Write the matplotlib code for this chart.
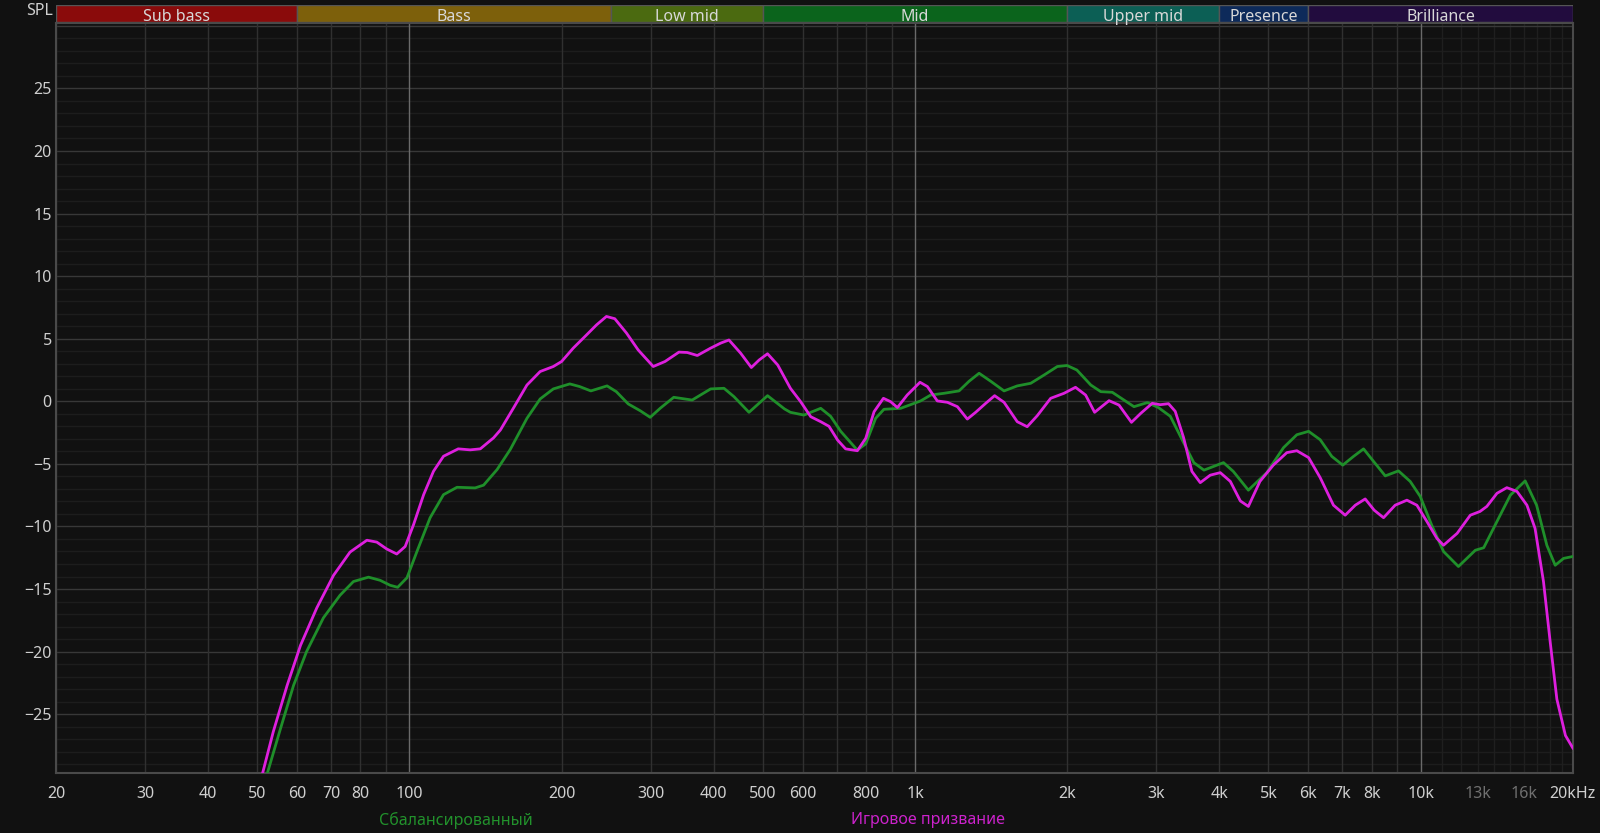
import matplotlib
matplotlib.use('Agg')
import matplotlib.pyplot as plt

plt.rcParams['font.family'] = ['Noto Sans', 'DejaVu Sans']
plt.rcParams['font.size'] = 11.5

# частотные полосы
band_names = ['Sub bass', 'Bass', 'Low mid', 'Mid', 'Upper mid', 'Presence', 'Brilliance']
band_edges = [20, 60, 250, 500, 2000, 4000, 6000, 20000]
band_colors = ['#8a0b0b', '#7d600b', '#4b6a10', '#0b641c', '#0c5f55', '#0d2a5a', '#220c3e']

# Сбалансированный (зелёная)
green_f = [52.2, 55.6, 59.0, 62.6, 67.6, 72.9, 77.5, 83.0, 87.5, 91.6, 94.8, 98.9, 103.5, 109.9,
           116.8, 124.2, 134.9, 140.2, 149.1, 158.3, 170.8, 181.4, 192.6, 207.6, 217, 228.5, 246,
           256.6, 270.9, 286, 299.4, 313.3, 333.3, 362.4, 394.3, 419, 438.5, 469.5, 510.9, 551.9,
           567, 603, 651, 681, 713, 769, 799, 836, 868, 937, 1026, 1074, 1141, 1222, 1279, 1339,
           1412, 1500, 1593, 1694, 1800, 1912, 1999, 2090, 2227, 2331, 2456, 2590, 2711, 2882,
           3030, 3199, 3398, 3560, 3728, 4075, 4261, 4564, 4963, 5357, 5692, 6005, 6330, 6673,
           7016, 7369, 7712, 8071, 8513, 9041, 9537, 9983, 10520, 11100, 11880, 12830, 13330,
           14160, 15050, 16100, 16960, 17770, 18460, 19180, 20000]
green_db = [-29.9, -26.15, -22.7, -20.0, -17.3, -15.5, -14.4, -14.05, -14.3, -14.7, -14.86, -14.1, -12.0, -9.3,
            -7.46, -6.87, -6.92, -6.7, -5.45, -3.85, -1.36, 0.19, 0.99, 1.39, 1.18, 0.83, 1.23,
            0.77, -0.21, -0.75, -1.28, -0.56, 0.32, 0.1, 0.99, 1.04, 0.37, -0.88, 0.45, -0.61,
            -0.88, -1.1, -0.56, -1.2, -2.4, -3.9, -3.4, -1.36, -0.64, -0.56, 0.03, 0.5, 0.64, 0.83, 1.6, 2.24,
            1.6, 0.83, 1.23, 1.44, 2.1, 2.78, 2.86, 2.5, 1.3, 0.77, 0.72, 0.1, -0.43, -0.1,
            -0.5, -1.2, -3.3, -4.9, -5.5, -4.9, -5.6, -7.1, -5.7, -3.7, -2.67, -2.4, -3.07, -4.4,
            -5.1, -4.4, -3.8, -4.8, -5.96, -5.56, -6.4, -7.6, -9.9, -12.0, -13.2, -11.9, -11.7,
            -9.6, -7.5, -6.36, -8.3, -11.5, -13.1, -12.55, -12.4]

# Игровое призвание (пурпурная)
game_f = [51.1, 53.8, 57.3, 60.9, 65.6, 70.8, 76.3, 82.4, 86.2, 90.2, 94.4, 98.1, 101.9, 106.7,
          111.6, 116.8, 124.9, 131.9, 138.1, 146.7, 151.3, 160.5, 170.8, 181.4, 192.6, 200, 210.9,
          224, 234.4, 245.3, 254.8, 268.8, 283.5, 303.6, 320.3, 341.3, 354.4, 371.1, 394.3, 412.8,
          428.6, 451.9, 474.6, 491.7, 510.9, 535.2, 567, 594, 622, 651, 676, 703, 729, 769, 799,
          830, 866, 895, 923, 965, 1023, 1058, 1107, 1159, 1213, 1269, 1318, 1380, 1437, 1500,
          1593, 1667, 1745, 1855, 1971, 2077, 2175, 2266, 2420, 2532, 2680, 2796, 2946, 3055,
          3173, 3271, 3398, 3529, 3666, 3837, 4016, 4204, 4400, 4564, 4811, 5113, 5438, 5692,
          6005, 6330, 6724, 7093, 7427, 7770, 8095, 8447, 8906, 9395, 9832, 10290, 10770, 11100,
          11810, 12540, 13110, 13520, 14160, 14810, 15510, 16230, 16840, 17500, 18040, 18600,
          19340, 20000]
game_db = [-29.9, -26.4, -22.7, -19.5, -16.5, -13.9, -12.05, -11.1, -11.25, -11.8, -12.2, -11.6, -9.86, -7.46,
           -5.59, -4.39, -3.8, -3.88, -3.8, -2.92, -2.3, -0.56, 1.3, 2.38, 2.78, 3.18, 4.25,
           5.3, 6.1, 6.78, 6.6, 5.45, 4.1, 2.78, 3.18, 3.93, 3.9, 3.66, 4.25, 4.65,
           4.9, 3.85, 2.7, 3.3, 3.8, 2.9, 1.04, -0.03, -1.23, -1.63, -2.0, -3.1, -3.8, -3.95, -2.96,
           -0.83, 0.24, -0.03, -0.5, 0.5, 1.52, 1.18, 0.03, -0.08, -0.43, -1.42, -0.88, -0.16, 0.45, -0.08,
           -1.63, -2.03, -1.15, 0.24, 0.64, 1.12, 0.5, -0.88, 0.05, -0.3, -1.68, -0.96, -0.16, -0.27,
           -0.19, -0.8, -2.9, -5.6, -6.5, -5.9, -5.7, -6.4, -7.96, -8.4, -6.4, -5.1, -4.1, -3.95,
           -4.5, -6.1, -8.3, -9.1, -8.3, -7.8, -8.7, -9.3, -8.3, -7.9, -8.3, -9.6, -10.95, -11.5,
           -10.55, -9.1, -8.8, -8.4, -7.35, -6.9, -7.2, -8.3, -10.15, -14.4, -19.2, -23.8,
           -26.7, -27.7]

# подписи осей
x_ticks = [20, 30, 40, 50, 60, 70, 80, 100, 200, 300, 400, 500, 600, 800, 1000, 2000, 3000,
           4000, 5000, 6000, 7000, 8000, 10000, 13000, 16000, 20000]
x_labels = ['20', '30', '40', '50', '60', '70', '80', '100', '200', '300', '400', '500', '600', '800',
            '1k', '2k', '3k', '4k', '5k', '6k', '7k', '8k', '10k', '13k', '16k', '20kHz']
y_ticks = [25, 20, 15, 10, 5, 0, -5, -10, -15, -20, -25]

bg = '#111111'
txt = '#cfcfcf'

fig = plt.figure(figsize=(16, 8.33), dpi=100, facecolor=bg)
ax = fig.add_axes([0.035, 0.072, 0.948, 0.900], facecolor=bg)
ax.set_xscale('log')
ax.set_xlim(20, 20000)
ax.set_ylim(-29.7, 30.2)

# сетка
for d in range(-29, 31):
    if d % 5 == 0:
        ax.axhline(d, color='#383838', lw=1, zorder=1)
    else:
        ax.axhline(d, color='#1d1d1d', lw=1, zorder=0)
grid_f = [f * m for m in (10, 100, 1000) for f in range(2, 10)] + [20000]
for f in grid_f:
    ax.axvline(f, color='#303030', lw=1, zorder=1)
for f in range(11000, 20000, 1000):
    ax.axvline(f, color='#1f1f1f', lw=1, zorder=0)
for f in (100, 1000, 10000):
    ax.axvline(f, color='#6a6a6a', lw=1, zorder=1)

ax.plot(green_f, green_db, color='#1f8f2a', lw=2, zorder=3, solid_joinstyle='round')
ax.plot(game_f, game_db, color='#de1fde', lw=2, zorder=4, solid_joinstyle='round')

ax.set_xticks(x_ticks)
ax.set_xticklabels(x_labels)
ax.minorticks_off()
ax.set_yticks(y_ticks)
ax.tick_params(axis='x', length=0, pad=9, colors=txt)
ax.tick_params(axis='y', length=0, pad=3, colors=txt)
for lab, f in zip(ax.get_xticklabels(), x_ticks):
    if f in (13000, 16000):
        lab.set_color('#707070')
for s in ax.spines.values():
    s.set_color('#4a4a4a')
    s.set_linewidth(1.5)

# полосы сверху
bax = fig.add_axes([0.035, 0.973, 0.948, 0.021], facecolor=bg)
bax.set_xscale('log')
bax.set_xlim(20, 20000)
bax.set_ylim(0, 1)
for name, lo, hi, c in zip(band_names, band_edges[:-1], band_edges[1:], band_colors):
    bax.axvspan(lo, hi, facecolor=c, edgecolor='#555555', lw=1)
    bax.text((lo * hi) ** 0.5, 0.3, name, ha='center', va='center', color='#d8d8d8', fontsize=11.5)
bax.set_xticks([])
bax.set_yticks([])
bax.minorticks_off()
for s in bax.spines.values():
    s.set_visible(False)

fig.text(53 / 1600, 1 - 11 / 833, 'SPL', ha='right', va='center', color=txt, fontsize=11.5)
fig.text(456 / 1600, 1 - 820 / 833, 'Сбалансированный', ha='center', va='center', color='#22922c', fontsize=11.5)
fig.text(928 / 1600, 1 - 820 / 833, 'Игровое призвание', ha='center', va='center', color='#cc22cc', fontsize=11.5)

fig.savefig('out.png', dpi=100, facecolor=bg)
